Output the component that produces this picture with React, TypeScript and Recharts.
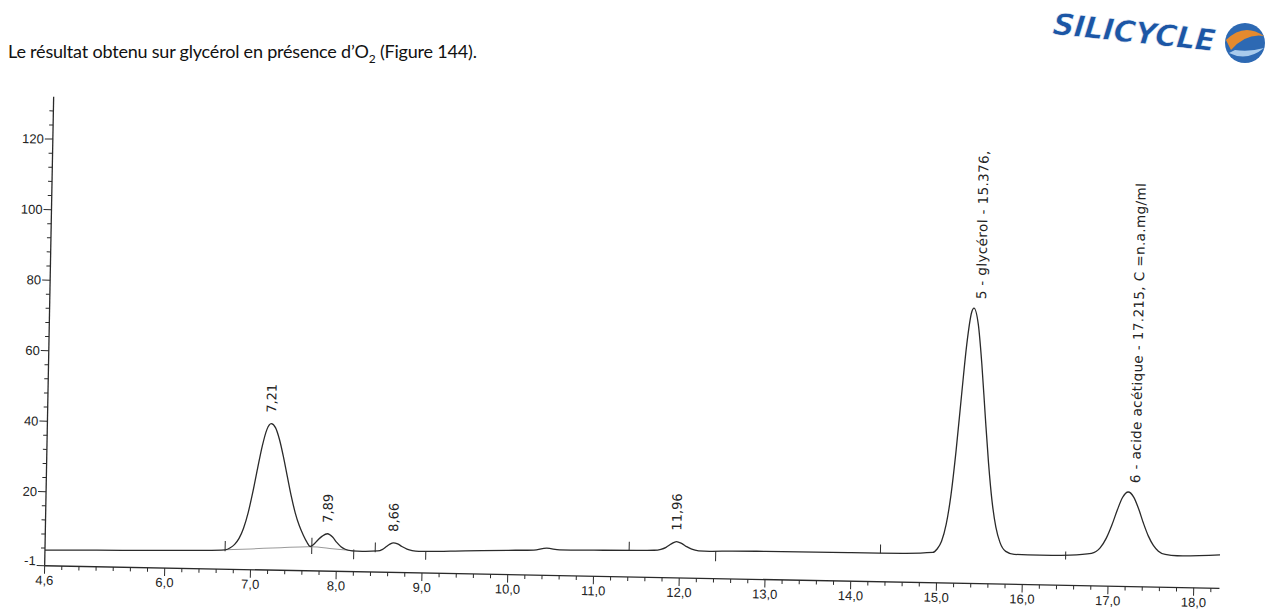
import React from "react";
import {
  ComposedChart,
  Line,
  Scatter,
  XAxis,
  YAxis,
  ReferenceLine,
} from "recharts";

const TRACE: [number, number][] = [
  [4.6, 3.4], [5.0, 3.6], [5.5, 3.8], [6.0, 4.0], [6.4, 4.2], [6.7, 4.5],
  [6.76, 5.1], [6.81, 6.1], [6.86, 7.8], [6.91, 10.7], [6.96, 15.1], [7.01, 21.0],
  [7.06, 27.7], [7.11, 34.1], [7.16, 38.8], [7.21, 40.5], [7.26, 39.4], [7.31, 36.0],
  [7.36, 31.1], [7.41, 25.5], [7.46, 20.0], [7.51, 15.3], [7.56, 11.7], [7.61, 9.0],
  [7.65, 7.2], [7.69, 5.9], [7.73, 6.5], [7.78, 7.8], [7.83, 8.9], [7.89, 9.6],
  [7.95, 8.7], [8.0, 7.2], [8.05, 6.0], [8.1, 5.3], [8.18, 4.9], [8.3, 4.8],
  [8.48, 5.0], [8.53, 5.4], [8.58, 6.3], [8.62, 7.0], [8.66, 7.4], [8.71, 7.1],
  [8.76, 6.4], [8.82, 5.7], [8.88, 5.3], [8.96, 5.1], [9.5, 5.5], [10.0, 5.9],
  [10.3, 6.1], [10.45, 6.7], [10.6, 6.3], [11.0, 6.4], [11.5, 6.6], [11.7, 6.7],
  [11.78, 7.0], [11.84, 7.6], [11.9, 8.6], [11.96, 9.3], [12.02, 8.8], [12.08, 7.9],
  [12.14, 7.2], [12.22, 6.8], [12.35, 6.7], [12.6, 6.9], [13.0, 7.0], [14.0, 7.1],
  [14.6, 7.2], [14.95, 7.6], [15.0, 8.6], [15.05, 10.8], [15.1, 15.6], [15.15, 24.1],
  [15.2, 36.8], [15.25, 52.2], [15.3, 66.8], [15.35, 75.9], [15.376, 77.1], [15.43, 72.5],
  [15.48, 61.3], [15.53, 47.0], [15.58, 33.3], [15.63, 22.4], [15.68, 15.1], [15.73, 10.9],
  [15.8, 8.3], [15.9, 7.5], [16.2, 7.4], [16.55, 7.6], [16.8, 8.2], [16.9, 9.8],
  [16.97, 12.6], [17.03, 16.2], [17.09, 20.5], [17.15, 24.2], [17.215, 25.8], [17.28, 24.4],
  [17.34, 21.1], [17.4, 17.0], [17.46, 13.4], [17.52, 10.8], [17.58, 9.2], [17.66, 8.3],
  [17.8, 8.0], [18.3, 8.5],
];

// ligne de base tracée sous les pics 7,21 / 7,89
const FIT_BASELINE: [number, number][] = [
  [6.7, 4.5], [7.0, 4.9], [7.35, 5.4], [7.7, 5.8], [7.95, 5.4], [8.2, 4.9],
];

const PEAK_TIMES = [7.21, 7.89, 8.66, 11.96, 15.376, 17.215];
const PEAK_HEIGHTS = [40.5, 9.6, 7.4, 9.3, 77.1, 25.8];
const PEAK_LABELS = [
  "7,21",
  "7,89",
  "8,66",
  "11,96",
  "5 - glycérol - 15.376,",
  "6 - acide acétique - 17.215, C =n.a.mg/ml",
];

// petits traits d'intégration : [temps, bas, haut]
const MARKERS: [number, number, number][] = [
  [6.7, 4.1, 7.0], [7.71, 3.8, 8.4], [8.2, 2.5, 5.3], [8.45, 4.6, 7.4],
  [9.04, 2.8, 5.2], [11.41, 6.4, 9.0], [12.42, 3.9, 6.8], [14.34, 7.1, 9.6],
  [16.5, 6.3, 8.6],
];

const X_MAJOR = [4.6, 6, 7, 8, 9, 10, 11, 12, 13, 14, 15, 16, 17, 18];
const Y_MAJOR = [-1, 20, 40, 60, 80, 100, 120];

const X_TICKS: number[] = [];
for (let i = 0; i <= 68; i++) X_TICKS.push(Math.round((4.6 + i * 0.2) * 10) / 10);
const Y_TICKS: number[] = [-1];
for (let v = 4; v <= 128; v += 4) Y_TICKS.push(v);

const traceData = TRACE.map(([t, v]) => ({ t, v }));
const fitData = FIT_BASELINE.map(([t, v]) => ({ t, v }));
const peakData = PEAK_TIMES.map((t, i) => ({ t, v: PEAK_HEIGHTS[i], label: PEAK_LABELS[i] }));

const INK = "#2a2a2a";
const FONT = "'Liberation Sans', Arial, sans-serif";
const LABEL_FONT = "'DejaVu Sans', sans-serif";

const isMajor = (list: number[], v: number) => list.some((m) => Math.abs(m - v) < 1e-6);

function XTick({ x, y, payload }: any) {
  const major = isMajor(X_MAJOR, payload.value);
  return (
    <g>
      <line x1={x} x2={x} y1={y} y2={y + (major ? 8 : 4)} stroke={INK} strokeWidth={1} />
      {major && (
        <text x={x} y={y + 19} textAnchor="middle" fontSize={13} fontFamily={FONT} fill="#222">
          {payload.value.toFixed(1).replace(".", ",")}
        </text>
      )}
    </g>
  );
}

function YTick({ x, y, payload }: any) {
  const major = isMajor(Y_MAJOR, payload.value);
  // le "-1" du scan est un peu au-dessus de l'axe
  const ty = payload.value < 0 ? y - 5 : y;
  return (
    <g>
      <line x1={x} x2={x - (major ? 8 : 4)} y1={y} y2={y} stroke={INK} strokeWidth={1} />
      {major && (
        <text x={x - 9} y={ty} dy="0.35em" textAnchor="end" fontSize={13} fontFamily={FONT} fill="#222">
          {payload.value}
        </text>
      )}
    </g>
  );
}

function PeakLabel(props: any) {
  const { cx, cy, payload } = props;
  const named = payload.label.length > 6;
  const px = cx + (named ? 7 : 0);
  const py = cy - (named ? 9 : 11);
  return (
    <text
      x={px}
      y={py}
      transform={`rotate(-90 ${px} ${py})`}
      dy="0.35em"
      textAnchor="start"
      fontSize={named ? 13.5 : 13}
      letterSpacing={named ? 0.4 : 0}
      fontFamily={LABEL_FONT}
      fill="#222"
    >
      {payload.label}
    </text>
  );
}

function Logo() {
  return (
    <svg width={229} height={75} style={{ position: "absolute", left: 1040, top: 0 }}>
      <circle cx={205} cy={43} r={20} fill="#2d69b3" />
      <path d="M186 40 Q204 22 224 36 Q206 33 191 50 Z" fill="#e58a2e" />
      <path d="M189 53 Q207 62 224 48 Q210 52 195 50 Z" fill="#a9cbec" />
      <g transform="rotate(6 12 34)">
        <text
          x={12}
          y={34}
          fontSize={30}
          fontWeight={900}
          fontStyle="italic"
          fontFamily="'DejaVu Sans', sans-serif"
          fill="#1c56a5"
          stroke="#fff"
          strokeWidth={0.6}
          letterSpacing={-0.5}
        >
          SILICYCLE
        </text>
      </g>
    </svg>
  );
}

export default function App() {
  return (
    <div
      style={{
        position: "absolute",
        left: 0,
        top: 0,
        width: 1269,
        height: 610,
        background: "#fff",
        overflow: "hidden",
      }}
    >
      <div
        style={{
          position: "absolute",
          left: 8,
          top: 40,
          fontFamily: "Lato, 'Open Sans', sans-serif",
          fontSize: 18,
          letterSpacing: -0.2,
          color: "#111",
          whiteSpace: "nowrap",
        }}
      >
        Le résultat obtenu sur glycérol en présence d’O<sub style={{ fontSize: 12 }}>2</sub> (Figure 144).
      </div>
      <Logo />
      <div
        style={{
          position: "absolute",
          left: 0,
          top: 0,
          transform: "rotate(1.1deg)",
          transformOrigin: "634px 345px",
        }}
      >
        <ComposedChart width={1269} height={610} margin={{ top: 108, right: 45, bottom: 3, left: 9 }}>
          <XAxis
            type="number"
            dataKey="t"
            domain={[4.6, 18.3]}
            ticks={X_TICKS}
            interval={0}
            tick={<XTick />}
            tickLine={false}
            tickSize={0}
            tickMargin={0}
            height={30}
            axisLine={{ stroke: INK, strokeWidth: 1.3 }}
            allowDataOverflow
          />
          <YAxis
            type="number"
            domain={[-1, 132]}
            ticks={Y_TICKS}
            interval={0}
            tick={<YTick />}
            tickLine={false}
            tickSize={0}
            tickMargin={0}
            width={40}
            axisLine={{ stroke: INK, strokeWidth: 1.3 }}
            allowDataOverflow
          />
          {MARKERS.map(([t, lo, hi]) => (
            <ReferenceLine
              key={t}
              segment={[{ x: t, y: lo }, { x: t, y: hi }]}
              stroke={INK}
              strokeWidth={1}
            />
          ))}
          <Line
            data={fitData}
            dataKey="v"
            type="monotone"
            dot={false}
            stroke="#9a9a9a"
            strokeWidth={1}
            isAnimationActive={false}
          />
          <Line
            data={traceData}
            dataKey="v"
            type="monotone"
            dot={false}
            stroke={INK}
            strokeWidth={1.3}
            isAnimationActive={false}
          />
          <Scatter data={peakData} dataKey="v" shape={<PeakLabel />} isAnimationActive={false} />
        </ComposedChart>
      </div>
    </div>
  );
}
